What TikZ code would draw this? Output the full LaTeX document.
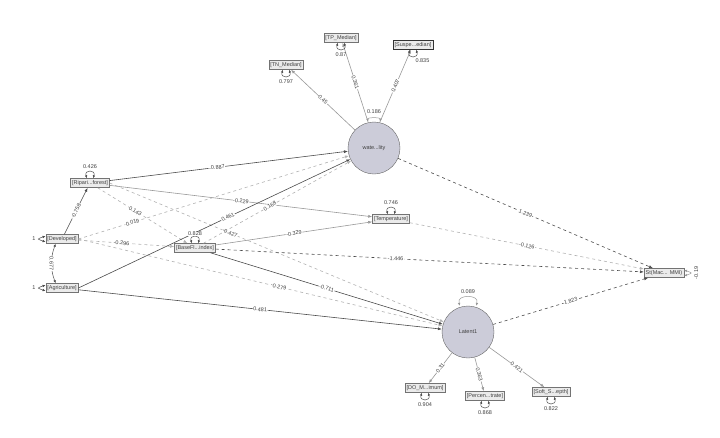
\documentclass[tikz,border=0pt]{standalone}
\usepackage{fontspec}
\setmainfont{Liberation Sans}
\usetikzlibrary{arrows.meta}
\begin{document}
\begin{tikzpicture}[x=1pt,y=-1pt,
  font=\fontsize{5.5}{6}\selectfont, text=black!75,
  box/.style={draw=black!55,fill=black!8,inner sep=1.5pt,minimum height=9pt,line width=0.5pt},
  lat/.style={circle,draw=black!60,fill=blue!25!black!20,minimum size=52pt,inner sep=0},
  ar/.style={-{Latex[length=4pt,width=3pt]},line width=0.6pt},
  sd/.style={ar,draw=black!70},
  sl/.style={ar,draw=black!40},
  dd/.style={ar,draw=black!70,dashed},
  dl/.style={ar,draw=black!30,dashed},
  lb/.style={fill=white,inner sep=0.5pt,sloped},
  res/.style={{Latex[length=3pt,width=2.5pt]}-{Latex[length=3pt,width=2.5pt]},draw=black!70,line width=0.5pt,min distance=6pt,looseness=4}]
\useasboundingbox (0,0) rectangle (720,437);
\fill[white] (0,0) rectangle (720,437);
% nodes
\node[box] (tp) at (341,38) {[TP\_Median]};
\node[box,draw=black!80] (su) at (413,45) {[Suspe...edian]};
\node[box] (tn) at (286,65) {[TN\_Median]};
\node[lat] (wq) at (374,148) {wate...lity};
\node[box] (ri) at (90,183) {[Ripari...forest]};
\node[box] (de) at (62,239) {[Developed]};
\node[box] (ag) at (62,288) {[Agriculture]};
\node[box] (bf) at (195,248) {[BaseFl...index]};
\node[box] (te) at (391,219) {[Temperature]};
\node[box] (st) at (664,273) {St(Mac... MMI)};
\node[lat] (la) at (468,332) {Latent1};
\node[box] (do) at (425,388) {[DO\_M...imum]};
\node[box] (pe) at (485,396) {[Percen...trate]};
\node[box] (so) at (551,392) {[Soft\_S...epth]};
% structural paths
\draw[sd] (ri) -- node[lb,pos=0.45]{-0.887} (wq);
\draw[sl] (ri) -- node[lb,pos=0.5]{-0.229} (te);
\draw[dl] (ri) -- node[lb,pos=0.42]{0.143} (bf);
\draw[dl] (ri.east) -- node[lb,pos=0.36]{-0.427} (la);
\draw[sd] (de) -- node[lb,pos=0.5]{-0.758} (ri);
\draw[dl] (de.east) -- node[lb,pos=0.2]{0.019} (wq);
\draw[dl] (de) -- node[lb,pos=0.45]{-0.296} (bf);
\draw[dl] (de.east) -- node[lb,pos=0.55]{-0.279} (la);
\draw[sd] (ag.east) -- node[lb,pos=0.55]{0.461} (wq);
\draw[sd] (ag) -- node[lb,pos=0.5]{0.481} (la);
\draw[dl] (bf) -- node[lb,pos=0.45]{0.168} (wq);
\draw[sl] (bf) -- node[lb,pos=0.5]{-0.329} (te);
\draw[sd] (bf) -- node[lb,pos=0.5]{-0.711} (la);
\draw[dd] (bf) -- node[lb,pos=0.42]{-1.446} (st);
\draw[dl] (te) -- node[lb,pos=0.5]{-0.126} (st);
\draw[dd] (wq) -- node[lb,pos=0.5]{1.239} (st);
\draw[dd] (la) -- node[lb,pos=0.5]{1.823} (st);
% covariance Developed-Agriculture
\draw[res,min distance=0pt,looseness=1] ([xshift=10pt]de.south west) to[bend right=20] node[lb,pos=0.5]{0.677} ([xshift=10pt]ag.north west);
% measurement
\draw[sl] (wq) -- node[lb]{0.45} (tn);
\draw[sl] ([xshift=-6pt]wq.north) coordinate (w1) -- node[lb]{0.361} (tp);
\draw[sl] ([xshift=6pt]wq.north) coordinate (w2) -- node[lb]{0.407} (su);
\draw[res,draw=black!40,min distance=0pt,looseness=1] (w1) to[out=100,in=80] node[above=1pt]{0.186} (w2);
\draw[sl] (la) -- node[lb]{0.31} (do);
\draw[sl] (la) -- node[lb]{0.363} (pe);
\draw[sl] (la) -- node[lb]{0.421} (so);
% residual variances
\draw[res] ([xshift=-3pt]ri.north) to[out=110,in=70] node[above]{0.426} ([xshift=3pt]ri.north);
\draw[res] ([xshift=-3pt]bf.north) to[out=110,in=70] node[above,fill=white,inner sep=0.5pt]{0.828} ([xshift=3pt]bf.north);
\draw[res] ([xshift=-3pt]te.north) to[out=110,in=70] node[above]{0.746} ([xshift=3pt]te.north);
\draw[res,draw=black!40,looseness=2] ([xshift=-8pt]la.north) to[out=110,in=70] node[above]{0.089} ([xshift=8pt]la.north);
\draw[res] ([xshift=-3pt]tn.south) to[out=-110,in=-70] node[below]{0.797} ([xshift=3pt]tn.south);
\draw[res] ([xshift=-3pt]tp.south) to[out=-110,in=-70] node[below]{0.87} ([xshift=3pt]tp.south);
\draw[res] ([xshift=-3pt]su.south) to[out=-110,in=-70] node[below right=-1pt]{0.835} ([xshift=3pt]su.south);
\draw[res] ([xshift=-3pt]do.south) to[out=-110,in=-70] node[below]{0.904} ([xshift=3pt]do.south);
\draw[res] ([xshift=-3pt]pe.south) to[out=-110,in=-70] node[below]{0.868} ([xshift=3pt]pe.south);
\draw[res] ([xshift=-3pt]so.south) to[out=-110,in=-70] node[below]{0.822} ([xshift=3pt]so.south);
\draw[res] ([yshift=-3pt]de.west) to[out=160,in=200] node[left]{1} ([yshift=3pt]de.west);
\draw[res] ([yshift=-3pt]ag.west) to[out=160,in=200] node[left]{1} ([yshift=3pt]ag.west);
\draw[res,draw=black!40] ([yshift=-3pt]st.east) to[out=20,in=-20] node[right,rotate=90,anchor=north]{-0.19} ([yshift=3pt]st.east);
\end{tikzpicture}
\end{document}
